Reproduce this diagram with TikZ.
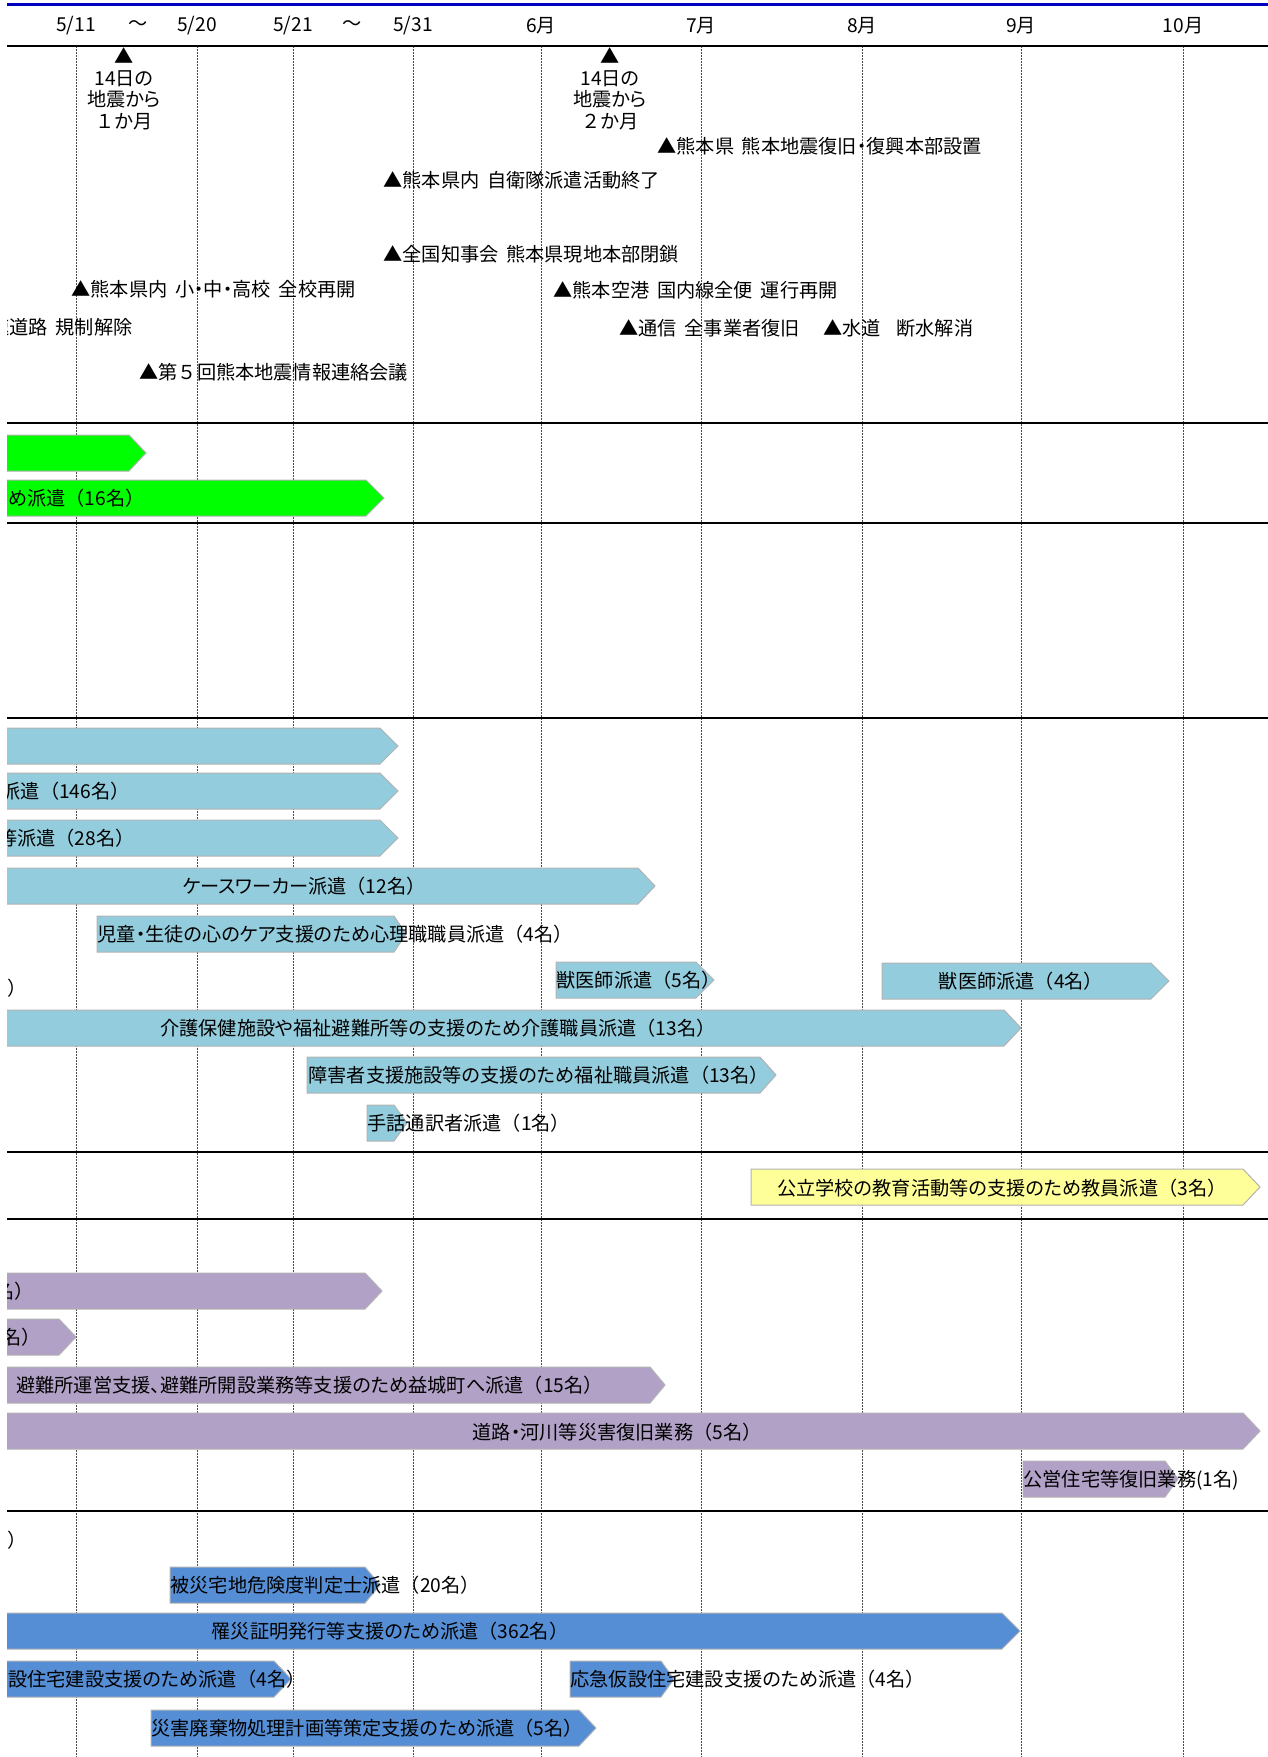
\documentclass[tikz,border=0pt]{standalone}
\usepackage{fontspec}
\setmainfont{Noto Sans CJK JP}[RawFeature=+palt,WordSpace=1.8]
\newfontfamily\fullwidth{Noto Sans CJK JP}
\usepackage{tikz}
\definecolor{topline}{HTML}{0000C0}
\definecolor{rescue}{HTML}{00FF00}
\definecolor{welfare}{HTML}{93CDDD}
\definecolor{school}{HTML}{FFFF99}
\definecolor{works}{HTML}{B2A1C7}
\definecolor{admin}{HTML}{558ED5}
\tikzstyle{Tick}=[inner sep=0, anchor=center]
\tikzstyle{Event}=[inner sep=0, anchor=west]
\tikzstyle{Label}=[inner sep=0]
\tikzstyle{Bar}=[draw=black!30, line width=0.5pt]
\tikzstyle{Grid}=[black!70, line width=0.5pt, dash pattern=on 1pt off 0.5pt]
\tikzstyle{Rule}=[black, line width=0.8pt]
\newcommand{\dispatch}[5]{\draw[Bar, fill=#1] (#2,#5) -- (#3,#5) -- (#4,{#5+18}) -- (#3,{#5+36}) -- (#2,{#5+36}) -- cycle;}
\newcommand{\lp}{{\fullwidth （}}
\newcommand{\rp}{{\fullwidth ）}}

\begin{document}
\begin{tikzpicture}[x=0.5pt, y=-0.5pt, font=\fontsize{9.6}{10.8}\selectfont]
    \useasboundingbox (0,0) rectangle (1268,1757);
    \begin{scope}
    \clip (7,0) rectangle (1268,1757);

    \path
    (76,26) node[Tick] (d0511) {5/11}
    (138,26) node[Tick] (t1) {～}
    (197,26) node[Tick] (d0520) {5/20}
    (293,26) node[Tick] (d0521) {5/21}
    (352,26) node[Tick] (t2) {～}
    (413,26) node[Tick] (d0531) {5/31}
    (541,26) node[Tick] (m6) {6月}
    (701,26) node[Tick] (m7) {7月}
    (862,26) node[Tick] (m8) {8月}
    (1021,26) node[Tick] (m9) {9月}
    (1183,26) node[Tick] (m10) {10月};

    \coordinate (top) at (0,46);
    \coordinate (bottom) at (0,1757);
    \foreach \n in {d0511,d0520,d0521,d0531,m6,m7,m8,m9,m10}
        \draw[Grid] (\n |- top) -- (\n |- bottom);

    \draw[topline, line width=1.5pt] (7,4) -- (1268,4);
    \foreach \y in {46,423,523,718,1152,1219,1511}
        \draw[Rule] (7,\y) -- (1268,\y);

    \path
    (124,89) node[Label, align=center] (month1) {▲\\14日の\\地震から\\{\fullwidth １}か月}
    (610,89) node[Label, align=center] (month2) {▲\\14日の\\地震から\\{\fullwidth ２}か月}
    (657,146) node[Event] (ev1) {▲熊本県 熊本地震復旧・復興本部設置}
    (383,180) node[Event] (ev2) {▲熊本県内 自衛隊派遣活動終了}
    (383,254) node[Event] (ev3) {▲全国知事会 熊本県現地本部閉鎖}
    (71,289) node[Event] (ev4) {▲熊本県内 小・中・高校 全校再開}
    (553,290) node[Event] (ev5) {▲熊本空港 国内線全便 運行再開}
    (133,327) node[Label, anchor=east] (ev6) {速道路 規制解除}
    (619,328) node[Event] (ev7) {▲通信 全事業者復旧}
    (823,328) node[Event] (ev8) {▲水道~~断水解消}
    (139,372) node[Event] (ev9) {▲第{\fullwidth ５}回熊本地震情報連絡会議};

    \dispatch{rescue}{-20}{129}{146}{435}
    \dispatch{rescue}{-20}{366}{384}{480}

    \dispatch{welfare}{-20}{380}{398}{728}
    \dispatch{welfare}{-20}{380}{398}{773}
    \dispatch{welfare}{-20}{380}{398}{820}
    \dispatch{welfare}{-20}{638}{655}{868}
    \dispatch{welfare}{97}{394}{406}{916}
    \dispatch{welfare}{556}{696}{714}{962}
    \dispatch{welfare}{882}{1151}{1169}{963}
    \dispatch{welfare}{-20}{1004}{1021}{1010}
    \dispatch{welfare}{307}{760}{776}{1057}
    \dispatch{welfare}{367}{394}{407}{1105}

    \dispatch{school}{751}{1243}{1260}{1169}

    \dispatch{works}{-20}{365}{382}{1273}
    \dispatch{works}{-20}{59}{76}{1319}
    \dispatch{works}{-20}{650}{665}{1367}
    \dispatch{works}{-20}{1243}{1260}{1413}
    \dispatch{works}{1023}{1165}{1178}{1461}

    \dispatch{admin}{170}{365}{380}{1567}
    \dispatch{admin}{-20}{1002}{1020}{1613}
    \dispatch{admin}{-20}{274}{291}{1661}
    \dispatch{admin}{570}{661}{674}{1661}
    \dispatch{admin}{151}{579}{596}{1710}

    \path
    (145,498) node[Label, anchor=east] (g2) {ため派遣\lp 16名\rp}
    (130,791) node[Label, anchor=east] (w2) {派遣\lp 146名\rp}
    (135,838) node[Label, anchor=east] (w3) {等派遣\lp 28名\rp}
    (304,886) node[Label] (w4) {ケースワーカー派遣\lp 12名\rp}
    (97,934) node[Event] (w5) {児童・生徒の心のケア支援のため心理職職員派遣\lp 4名\rp}
    (27,988) node[Label, anchor=east] (w6) {名\rp}
    (556,980) node[Event] (w7) {獣医師派遣\lp 5名\rp}
    (1021,981) node[Label] (w8) {獣医師派遣\lp 4名\rp}
    (438,1028) node[Label] (w9) {介護保健施設や福祉避難所等の支援のため介護職員派遣\lp 13名\rp}
    (308,1075) node[Event] (w10) {障害者支援施設等の支援のため福祉職員派遣\lp 13名\rp}
    (367,1123) node[Event] (w11) {手話通訳者派遣\lp 1名\rp}
    (1002,1188) node[Label] (s1) {公立学校の教育活動等の支援のため教員派遣\lp 3名\rp}
    (34,1291) node[Label, anchor=east] (k1) {名\rp}
    (41,1337) node[Label, anchor=east] (k2) {名\rp}
    (16,1385) node[Event] (k3) {避難所運営支援、避難所開設業務等支援のため益城町へ派遣\lp 15名\rp}
    (617,1432) node[Label] (k4) {道路・河川等災害復旧業務\lp 5名\rp}
    (1023,1480) node[Event] (k5) {公営住宅等復旧業務(1名)}
    (27,1540) node[Label, anchor=east] (a0) {名\rp}
    (170,1585) node[Event] (a1) {被災宅地危険度判定士派遣\lp 20名\rp}
    (390,1631) node[Label] (a2) {罹災証明発行等支援のため派遣\lp 362名\rp}
    (8,1679) node[Event] (a3) {設住宅建設支援のため派遣\lp 4名\rp}
    (570,1679) node[Event] (a4) {応急仮設住宅建設支援のため派遣\lp 4名\rp}
    (151,1728) node[Event] (a5) {災害廃棄物処理計画等策定支援のため派遣\lp 5名\rp};
    \end{scope}
\end{tikzpicture}
\end{document}
